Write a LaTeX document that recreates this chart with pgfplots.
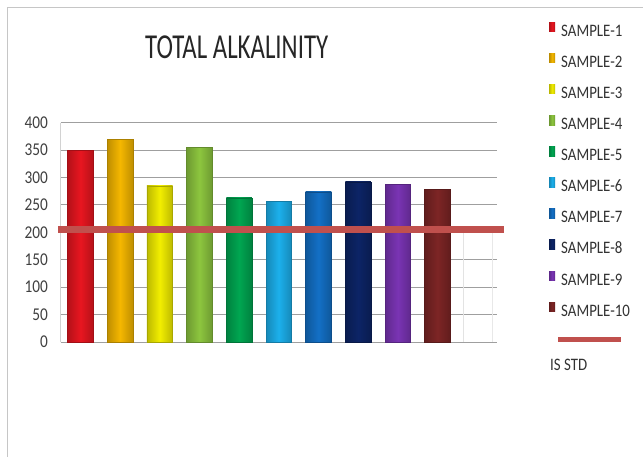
\documentclass[border=0pt]{standalone}
\usepackage{fontspec}
\setmainfont{Carlito}[FakeStretch=0.85]
\newfontfamily\titlefont{Carlito}[FakeStretch=0.71]
\usepackage{pgfplots}
\pgfplotsset{compat=1.18}

\definecolor{s1}{RGB}{232,22,32}
\definecolor{s2}{RGB}{245,183,0}
\definecolor{s3}{RGB}{242,238,0}
\definecolor{s4}{RGB}{141,198,63}
\definecolor{s5}{RGB}{0,166,81}
\definecolor{s6}{RGB}{28,176,236}
\definecolor{s7}{RGB}{19,112,198}
\definecolor{s8}{RGB}{12,36,102}
\definecolor{s9}{RGB}{122,52,180}
\definecolor{s10}{RGB}{125,37,37}
\definecolor{stdred}{RGB}{192,80,77}

\pgfplotsset{
  samplebar/.style={
    ybar, bar width=25.6pt, bar shift=0pt,
    draw=#1!70!black,
    left color=#1!78!black, right color=#1!78!black, middle color=#1,
    legend image code/.code={\fill[##1,draw=none] (0pt,0.5pt) rectangle (6pt,10pt);},
  },
}

\begin{document}
\begin{tikzpicture}[x=1pt,y=1pt]
\useasboundingbox (0,0) rectangle (643,457);
\fill[white] (0,0) rectangle (643,457);
% chart area frame
\draw[gray!45, line width=0.8pt] (7,0) -- (7,450) -- (643,450);

\node[anchor=base, font=\titlefont\fontsize{35}{35}\selectfont, text=black!85]
  at (236.7,398.7) {TOTAL ALKALINITY};

\begin{axis}[
  at={(60.6pt,115pt)}, anchor=south west,
  scale only axis, width=436.4pt, height=219.3pt,
  xmin=-0.5, xmax=10.5, ymin=0, ymax=400,
  clip=false,
  axis line style={draw=none},
  xtick=\empty,
  ytick={0,50,...,400},
  ymajorgrids, grid style={draw=gray!75, line width=0.9pt},
  major tick length=0pt,
  /pgf/number format/assume math mode=true,
  yticklabel style={font=\fontsize{18}{18}\selectfont, text=black!75,
    inner xsep=0pt, xshift=-12.5pt},
  legend style={at={(axis description cs:1.1192,1.459)}, anchor=north west,
    draw=none, fill=none, inner sep=0pt,
    font=\fontsize{17.5}{17.5}\selectfont, text=black!80,
    row sep=13.1pt, column sep=6pt,
    nodes={inner sep=0pt, text height=12pt, text depth=4pt}},
  legend cell align=left,
]
% faint wall lines
\draw[gray!35, line width=0.8pt] (axis cs:-0.5,0) -- (axis cs:-0.5,400);
\draw[gray!22, line width=0.8pt] (axis cs:9.66,0) -- (axis cs:9.66,205);
\draw[gray!18, line width=0.8pt] (axis cs:10.38,0) -- (axis cs:10.38,205);

\addplot[samplebar=s1]  coordinates {(0,349)};
\addplot[samplebar=s2]  coordinates {(1,370)};
\addplot[samplebar=s3]  coordinates {(2,285)};
\addplot[samplebar=s4]  coordinates {(3,355)};
\addplot[samplebar=s5]  coordinates {(4,263)};
\addplot[samplebar=s6]  coordinates {(5,257)};
\addplot[samplebar=s7]  coordinates {(6,274)};
\addplot[samplebar=s8]  coordinates {(7,292)};
\addplot[samplebar=s9]  coordinates {(8,287)};
\addplot[samplebar=s10] coordinates {(9,279)};
\legend{SAMPLE-1,SAMPLE-2,SAMPLE-3,SAMPLE-4,SAMPLE-5,SAMPLE-6,SAMPLE-7,SAMPLE-8,SAMPLE-9,SAMPLE-10}

% IS standard
\addplot[stdred, line width=6.5pt, forget plot] coordinates {(-0.56,205) (10.67,205)};
\end{axis}

% IS STD legend key
\draw[stdred, line width=5pt] (558,117) -- (621,117);
\node[anchor=base west, inner sep=0pt, font=\fontsize{17.5}{17.5}\selectfont, text=black!80]
  at (550,86.5) {IS STD};
\end{tikzpicture}
\end{document}
